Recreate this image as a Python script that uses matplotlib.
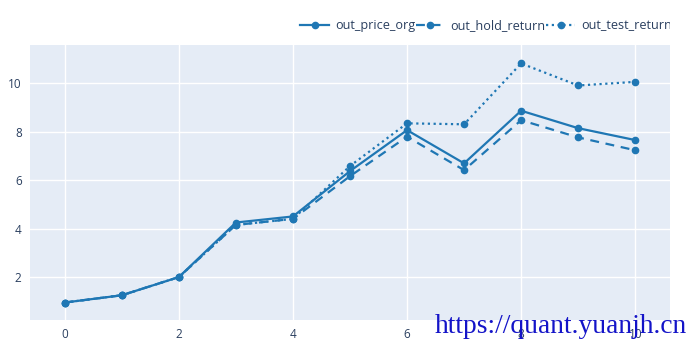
import numpy as np
import matplotlib
matplotlib.use("Agg")
from matplotlib import pyplot as plt
from matplotlib.transforms import Bbox

plt.rcParams['font.family'] = ['Open Sans', 'DejaVu Sans']

x = [0, 1, 2, 3, 4, 5, 6, 7, 8, 9, 10]
out_price_org = [0.95, 1.25, 2.0, 4.25, 4.5, 6.37, 8.06, 6.69, 8.86, 8.14, 7.65]
out_hold_return = [0.95, 1.25, 2.0, 4.15, 4.4, 6.16, 7.79, 6.41, 8.47, 7.76, 7.23]
out_test_return = [0.95, 1.25, 2.0, 4.15, 4.4, 6.58, 8.34, 8.30, 10.81, 9.90, 10.05]

blue = "#1f77b4"
text_col = "#2a3f5f"

fig = plt.figure(figsize=(7, 3.5), dpi=100)
ax = fig.add_axes([30/700, 30/350, 640/700, 275/350])
ax.set_facecolor("#E5ECF6")

ax.plot(x, out_price_org, "-o", color=blue, lw=1.6, markersize=4.5, label="out_price_org")
ax.plot(x, out_hold_return, "--o", color=blue, lw=1.6, markersize=4.5, dashes=(4, 3), label="out_hold_return")
ax.plot(x, out_test_return, ":o", color=blue, lw=1.6, markersize=4.5, dashes=(1, 1.6), label="out_test_return")

ax.set_xlim(-0.61, 10.61)
ax.set_ylim(0.23, 11.57)
ax.set_xticks([0, 2, 4, 6, 8, 10])
ax.set_yticks([2, 4, 6, 8, 10])
ax.grid(True, color="white", lw=1)
ax.set_axisbelow(True)
for s in ax.spines.values():
    s.set_visible(False)
ax.tick_params(length=0, labelsize=8.5, labelcolor=text_col, pad=6)

leg = fig.legend(loc="center left", bbox_to_anchor=(300/700, 1 - 26/350), ncol=3, frameon=False,
                 fontsize=9.1, labelcolor=text_col, handlelength=2.3, handletextpad=0.45,
                 columnspacing=0.05, borderaxespad=0, borderpad=0)
# legend is cut off at the right edge of the plot area
clip = Bbox.from_extents(0, 0, 670, 350)
for t in leg.get_texts():
    t.set_clip_box(clip)
    t.set_clip_on(True)

fig.text(435/700, 1 - 333/350, "https://quant.yuanjh.cn", family="Liberation Serif",
         fontsize=19.8, color="#1414c8", va="baseline", ha="left")

fig.savefig("out.png", dpi=100)
